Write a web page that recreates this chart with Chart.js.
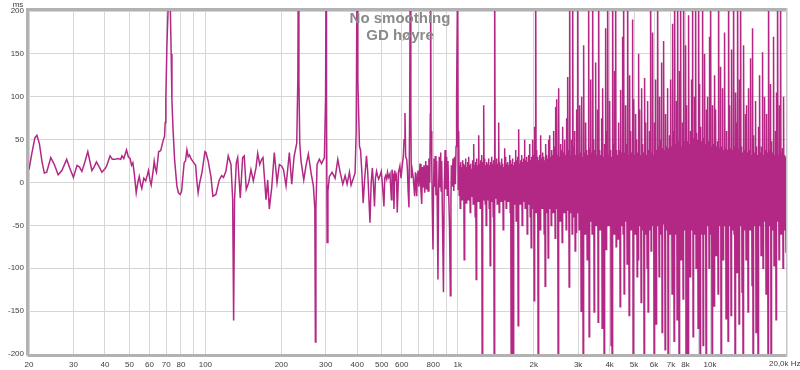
<!DOCTYPE html>
<html>
<head>
<meta charset="utf-8">
<script src="https://cdn.jsdelivr.net/npm/chart.js@4.4.1/dist/chart.umd.min.js"></script>
<style>
  html, body { margin: 0; padding: 0; background: #fff; }
  #wrap { width: 800px; height: 370px; }
</style>
</head>
<body>
<div id="wrap"><canvas id="grafico"></canvas></div>
<script>
// group delay trace, [Hz, ms]
const band20to100 = [
  [20,15],[20.5,33],[21.1,52],[21.5,55],[22,45],[22.5,25],[23,11],[23.5,12],[24.4,29],[25.2,21],
  [26.1,9],[27,14],[28.2,27],[29,17],[30,6],[31,20],[31.7,18],[32.4,13],[33.3,24],[34.2,36],
  [35.5,14],[36.2,18],[37,24],[38,18],[38.9,12],[40,16],[40.6,19],[41.9,31],[42.8,27],[43.8,27],
  [45,28],[46.2,27],[46.7,31],[47.5,28],[48.7,38],[49.5,30],[50.3,28],[51,20],[51.6,23],[52.3,10],
  [53.2,-12],[54,0],[54.7,7],[55.4,-2],[56,-7],[57,5],[58,2],[58.8,8],[59.5,14],[60.3,3],
  [61,-3],[62,12],[62.7,25],[63.4,16],[64,12],[65.3,36],[66.5,37],[67.9,48],[68.9,54],[69.3,70],
  [69.7,96],[70.4,160],[71.4,215],[72.5,215],[73.2,150],[73.7,96],[74.5,60],[75.5,27],[77.1,-4],[78.2,-12],
  [79.5,-14],[80.5,-10],[82.4,23],[83.4,25],[84.5,38],[85.5,30],[86.5,32],[87.6,28],[89,25],[91.5,20],
  [92.5,2],[93.6,-12],[95,0],[97,12],[99.6,36]
];
const band100to400 = [
  [100.5,35],[102.6,25],[105.2,7],[107.1,-16],[110.1,-14],[113.5,3],[116,8],[118,6],[120.6,13],[123.2,31],
  [126.3,21],[128.3,-20],[129.4,-161],[130.5,-20],[132.6,23],[134.3,29],[137.5,-18],[140.5,29],[142.6,31],[145.2,-8],
  [148.5,0],[151.6,15],[154.9,2],[158.7,17],[161.2,34],[164.2,21],[167.2,27],[169.2,29],[173.9,-20],[176.6,3],
  [179.2,-31],[183.2,-6],[187.6,35],[192.3,0],[196.4,21],[200.7,19],[204,15],[208.8,-4],[215.2,35],[219.9,-2],
  [224.6,30],[230.2,46],[232.5,120],[233.6,260],[234.8,120],[236.6,46],[239.4,25],[245.4,3],[250.6,20],[255.9,33],
  [262.4,11],[267.9,-4],[271.5,-30],[272.9,-186],[274.2,-30],[277.1,21],[283,27],[288.8,22],[296.3,29],[299.5,100],
  [300.9,260],[302,100],[303.7,-70],[306,-10],[310.1,7],[317.8,12],[326.7,5],[334.8,27],[342,12],[350.5,-2],
  [358,8],[364.5,-2],[372.3,12],[378,-3],[386,5],[392,11],[396,60],[399.4,260],[402,120],[408,42],
  [412,38],[417,12]
];
const band400to1k = [
  [422,-24],[428,5],[435,31],[440,12],[449,-47],[454,0],[459,17],[464,-5],[468,-28],[472,5],
  [477,13],[481,8],[486,4],[492,8],[498,13],[504,-5],[510,-28],[514,5],[518,8],[523,4],
  [527,12],[532,6],[539,10],[546,-20],[549,15],[551,12],[556,8],[559,-31],[563,14],[568,5],
  [572,8],[576,-35],[583,12],[590,19],[596,5],[603,20],[609,31],[613,50],[618,81],[622,30],
  [628,27],[632,15],[636,-10],[641,-29],[645,80],[649,260],[652,80],[655,5],[660,15],[667,5],
  [675,-16],[680,12],[688,-16],[692,10],[696,14],[702,-5],[709,22],[715,-10],[720,-25],[725,18],
  [730,-5],[735,20],[740,-12],[747,25],[752,-8],[758,20],[763,-10],[769,28],[775,0],[779,80],
  [781,260],[784,60],[789,25],[794,-40],[798,-78],[802,-10],[806,28],[810,-5],[815,31],[820,-15],
  [825,25],[830,-30],[835,-113],[840,-10],[845,30],[851,-5],[856,35],[860,-10],[864,25],[870,-40],
  [878,-128],[884,-10],[891,38],[897,-8],[904,30],[910,-15],[915,25],[920,-8],[928,-50],[935,-132],
  [940,-20],[944,20],[950,-5],[958,28],[965,-10],[972,30],[979,-2],[985,42],[990,100]
];
// from 1 kHz up the trace is too dense to follow: per log step (76 per octave)
// the highest and the lowest excursion seen in that column
const hfStartHz = 1000;
const hfPointsPerOctave = 76;
const hfHighMs = [
  260,60,20,24,18,26,22,20,28,18,
  24,30,20,22,16,26,45,20,24,28,
  20,55,22,26,32,24,90,28,20,24,
  22,28,20,24,30,22,26,260,20,28,
  22,70,24,20,28,22,18,40,30,22,
  24,20,32,26,22,28,20,24,38,26,
  30,62,22,26,32,24,28,50,26,30,
  24,32,45,26,30,50,32,65,260,38,
  30,26,32,55,28,35,30,26,45,32,
  28,50,55,30,38,32,60,42,88,97,
  32,110,30,45,38,65,35,50,32,75,
  123,38,260,32,50,260,42,60,32,85,
  260,32,90,35,100,30,160,35,70,38,
  32,260,40,120,35,260,50,38,140,32,
  85,260,38,32,75,110,30,45,180,60,
  260,32,95,38,30,260,45,130,260,38,
  32,70,38,108,35,170,260,35,90,45,
  260,32,125,60,35,190,97,32,80,50,
  35,150,85,32,110,45,35,122,70,32,
  95,38,60,260,35,175,32,70,120,38,
  260,42,100,50,140,40,165,38,80,42,
  110,40,55,120,42,185,60,260,45,95,
  260,48,130,260,42,70,260,48,160,90,
  48,195,45,60,120,260,52,100,260,58,
  50,260,115,65,48,260,52,150,45,85,
  100,48,170,260,42,90,45,125,85,42,
  48,260,40,135,42,110,38,175,40,60,
  38,260,90,40,155,38,260,42,105,70,
  260,40,120,260,42,35,160,38,80,90,
  35,110,38,145,32,180,55,35,95,42,
  32,65,125,35,42,152,32,100,38,80,
  35,260,38,115,48,35,170,32,60,105,
  260,32,90,260,35,40,100,32,30
];
const hfLowMs = [
  -8,-15,-30,-14,-20,-12,-90,-18,-24,-14,
  -20,-14,-35,-16,-12,-25,-18,-40,-113,-16,
  -22,-14,-30,-18,-220,-20,-15,-25,-50,-16,
  -20,-30,-97,-16,-22,-40,-220,-18,-15,-25,
  -20,-35,-15,-22,-18,-55,-16,-20,-30,-15,
  -22,-18,-35,-220,-20,-220,-25,-16,-45,-20,
  -167,-18,-25,-20,-50,-16,-22,-30,-18,-60,
  -20,-25,-40,-76,-22,-30,-138,-25,-35,-20,
  -220,-25,-55,-22,-30,-20,-60,-121,-25,-35,
  -88,-22,-30,-50,-25,-35,-22,-65,-30,-25,
  -220,-30,-45,-25,-70,-30,-35,-25,-55,-32,
  -30,-122,-35,-25,-60,-30,-40,-80,-58,-30,
  -35,-55,-30,-150,-45,-220,-32,-60,-30,-90,
  -35,-180,-45,-40,-60,-32,-151,-40,-50,-35,
  -163,-40,-55,-35,-170,-45,-220,-40,-78,-50,
  -35,-50,-45,-190,-220,-35,-60,-40,-75,-45,
  -66,-40,-145,-50,-38,-60,-130,-38,-45,-95,
  -40,-155,-45,-55,-40,-220,-45,-60,-40,-110,
  -90,-45,-50,-140,-50,-55,-220,-60,-45,-100,
  -151,-45,-55,-80,-42,-50,-220,-48,-165,-45,
  -50,-110,-45,-60,-175,-45,-48,-195,-55,-50,
  -220,-50,-60,-45,-130,-55,-185,-50,-60,-160,
  -60,-220,-50,-90,-55,-136,-50,-55,-200,-55,
  -220,-60,-110,-50,-55,-180,-50,-60,-100,-50,
  -170,-55,-220,-55,-60,-190,-60,-55,-220,-50,
  -50,-100,-55,-60,-220,-48,-144,-55,-85,-45,
  -130,-50,-45,-220,-55,-90,-45,-50,-159,-45,
  -185,-50,-45,-155,-55,-45,-60,-220,-45,-105,
  -45,-165,-50,-45,-128,-220,-45,-55,-90,-45,
  -151,-45,-55,-50,-120,-220,-45,-50,-175,-50,
  -220,-45,-50,-85,-50,-100,-45,-45,-130,-40,
  -220,-45,-50,-220,-40,-55,-97,-45,-160,-40,
  -45,-90,-50,-60,-45,-100,-50,-55,-82
];

// axes
const gridHz = [20,30,40,50,60,70,80,90,100,200,300,400,500,600,700,800,900,
  1000,2000,3000,4000,5000,6000,7000,8000,9000,10000,20000];
const tickHz = [20,30,40,50,60,70,80,100,200,300,400,500,600,800,1000,2000,3000,4000,5000,6000,7000,8000,10000,20000];
const tickText = ["20","30","40","50","60","70","80","100","200","300","400","500","600","800",
  "1k","2k","3k","4k","5k","6k","7k","8k","10k","20,0k Hz"];
const yTicks = [200,150,100,50,0,-50,-100,-150,-200];
const titulo = ["No smoothing", "GD høyre"];
const unidadY = "ms";

const colorTraza = "rgb(178, 40, 132)";
const colorGrid = "#d6d6d6";
const fuente = '"Liberation Sans", Arial, sans-serif';

// high/low of each column alternate, half a step apart
const hfTraza = [];
hfHighMs.forEach((alto, i) => {
  hfTraza.push([hfStartHz * Math.pow(2, i / hfPointsPerOctave), alto]);
  hfTraza.push([hfStartHz * Math.pow(2, (i + 0.5) / hfPointsPerOctave), hfLowMs[i]]);
});
const traza = [...band20to100, ...band100to400, ...band400to1k, ...hfTraza]
  .map(([x, y]) => ({ x, y }));

// frame, title and the odd labels REW puts around the plot
const marcoREW = {
  id: "marcoREW",
  afterDatasetsDraw(chart) {
    const { ctx, chartArea: a, scales } = chart;
    ctx.save();
    ctx.strokeStyle = "#b2b2b2";
    ctx.lineWidth = 3;
    ctx.beginPath();
    ctx.moveTo(a.left - 1.5, a.bottom + 1.5);
    ctx.lineTo(a.left - 1.5, a.top - 1.5);
    ctx.lineTo(a.right, a.top - 1.5);
    ctx.moveTo(a.left - 1.5, a.bottom + 1.5);
    ctx.lineTo(a.right, a.bottom + 1.5);
    ctx.stroke();
    ctx.strokeStyle = "#c4c4c4";
    ctx.lineWidth = 1.5;
    ctx.beginPath();
    ctx.moveTo(a.right + 0.75, a.top - 3);
    ctx.lineTo(a.right + 0.75, a.bottom + 3);
    ctx.stroke();

    ctx.fillStyle = "#8a8a8a";
    ctx.font = "bold 15px " + fuente;
    ctx.textAlign = "center";
    ctx.textBaseline = "middle";
    ctx.fillText(titulo[0], 400, 19);
    ctx.fillText(titulo[1], 400, 36);

    ctx.fillStyle = "#3c3c3c";
    ctx.font = "8px " + fuente;
    ctx.fillText(unidadY, 18, 5);
    ctx.textAlign = "left";
    const xLast = scales.x.getPixelForValue(tickHz[tickHz.length - 1]);
    ctx.fillText(tickText[tickText.length - 1], xLast - 17, 364);
    ctx.restore();
  }
};

const ctx = document.getElementById("grafico").getContext("2d");
const chart = new Chart(ctx, {
  type: "line",
  data: {
    datasets: [{
      data: traza,
      borderColor: colorTraza,
      borderWidth: 1.5,
      pointRadius: 0,
      tension: 0,
      fill: false
    }]
  },
  options: {
    responsive: true,
    maintainAspectRatio: false,
    animation: false,
    layout: { padding: { top: 11, right: 14, left: 0, bottom: 0 } },
    plugins: {
      legend: { display: false },
      tooltip: { enabled: false },
      title: { display: false }
    },
    scales: {
      x: {
        type: "logarithmic",
        min: 20,
        max: 20000,
        border: { display: false },
        grid: { color: colorGrid, lineWidth: 1, drawTicks: false },
        afterBuildTicks: (scale) => { scale.ticks = gridHz.map(v => ({ value: v })); },
        afterFit: (scale) => { scale.height = 16; },
        ticks: {
          autoSkip: false,
          maxRotation: 0,
          padding: 6,
          color: "#3c3c3c",
          font: { family: fuente, size: 8 },
          callback: (value) => {
            const i = tickHz.indexOf(value);
            return (i >= 0 && i < tickHz.length - 1) ? tickText[i] : "";
          }
        }
      },
      y: {
        min: -200,
        max: 200,
        border: { display: false },
        grid: { color: colorGrid, lineWidth: 1, drawTicks: false },
        afterBuildTicks: (scale) => { scale.ticks = yTicks.map(v => ({ value: v })); },
        afterFit: (scale) => { scale.width = 29; },
        ticks: {
          padding: 5,
          color: "#3c3c3c",
          font: { family: fuente, size: 8 },
          callback: (value) => String(value)
        }
      }
    }
  },
  plugins: [marcoREW]
});
</script>
</body>
</html>
